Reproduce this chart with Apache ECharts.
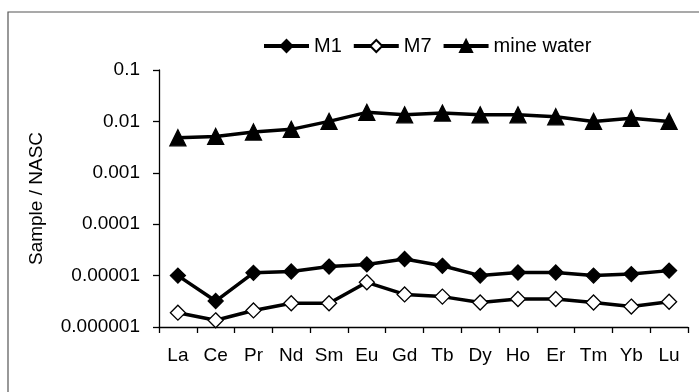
<!DOCTYPE html>
<html>
<head>
<meta charset="utf-8">
<script src="https://cdn.jsdelivr.net/npm/echarts@6/dist/echarts.min.js"></script>
<style>
  html, body { margin: 0; padding: 0; background: #fff; }
  #content { width: 699px; height: 392px; }
</style>
</head>
<body>
<div id="content"></div>
<script>
  // REE categories
  var elements = ['La', 'Ce', 'Pr', 'Nd', 'Sm', 'Eu', 'Gd', 'Tb', 'Dy', 'Ho', 'Er', 'Tm', 'Yb', 'Lu'];
  // sample / NASC ratios
  var m1 = [1.0e-5, 3.2e-6, 1.13e-5, 1.2e-5, 1.5e-5, 1.65e-5, 2.1e-5, 1.55e-5, 1.0e-5, 1.15e-5, 1.15e-5, 1.0e-5, 1.07e-5, 1.25e-5];
  var m7 = [1.9e-6, 1.35e-6, 2.1e-6, 2.9e-6, 2.9e-6, 7.4e-6, 4.3e-6, 3.9e-6, 3.0e-6, 3.5e-6, 3.5e-6, 3.0e-6, 2.5e-6, 3.1e-6];
  var mineWater = [0.0048, 0.0051, 0.0062, 0.0070, 0.0100, 0.0150, 0.0134, 0.0145, 0.0134, 0.0134, 0.0123, 0.0100, 0.0115, 0.0100];
  var yTickLabels = ['0.000001', '0.00001', '0.0001', '0.001', '0.01', '0.1'];

  var chart = echarts.init(document.getElementById('content'));
  var font = 'Liberation Sans, Arial, sans-serif';

  function lineSeries(name, data, symbol, fill, size) {
    return {
      name: name,
      type: 'line',
      data: data,
      symbol: symbol,
      symbolSize: size,
      showAllSymbol: true,
      lineStyle: { color: '#000', width: 3.5 },
      itemStyle: { color: fill, borderColor: '#000', borderWidth: 1.3 },
      emphasis: { disabled: true },
      animation: false
    };
  }

  chart.setOption({
    backgroundColor: '#fff',
    graphic: [{
      type: 'rect',
      shape: { x: 8, y: 12, width: 720, height: 420 },
      style: { fill: 'none', stroke: '#555', lineWidth: 1.2 },
      silent: true
    }],
    legend: {
      top: 31,
      left: 257,
      itemWidth: 45,
      itemHeight: 15,
      itemGap: 10,
      lineStyle: { width: 4 },
      textStyle: { fontFamily: font, fontSize: 20, color: '#000' },
      data: ['M1', 'M7', 'mine water']
    },
    grid: { left: 159, right: 11, top: 70, bottom: 65 },
    xAxis: {
      type: 'category',
      data: elements,
      boundaryGap: true,
      axisLine: { lineStyle: { color: '#000', width: 1.3 } },
      axisTick: { show: true, alignWithLabel: false, length: 6, lineStyle: { color: '#000', width: 1.3 } },
      axisLabel: { fontFamily: font, fontSize: 19, color: '#000', margin: 19 }
    },
    yAxis: {
      type: 'log',
      logBase: 10,
      min: 1e-6,
      max: 0.1,
      name: 'Sample / NASC',
      nameLocation: 'middle',
      nameRotate: 90,
      nameGap: 113,
      nameTextStyle: { fontFamily: font, fontSize: 19, color: '#000' },
      axisLine: { show: true, lineStyle: { color: '#000', width: 1.3 } },
      axisTick: { show: true, inside: false, length: 6, lineStyle: { color: '#000', width: 1.3 } },
      splitLine: { show: false },
      axisLabel: {
        fontFamily: font, fontSize: 19, color: '#000', margin: 19,
        formatter: function (v) {
          var i = Math.round(Math.log10(v)) + 6;
          return yTickLabels[i] || '';
        }
      }
    },
    series: [
      lineSeries('M1', m1, 'diamond', '#000', 15),
      lineSeries('M7', m7, 'diamond', '#fff', 15),
      lineSeries('mine water', mineWater, 'triangle', '#000', 16)
    ]
  });
</script>
</body>
</html>
